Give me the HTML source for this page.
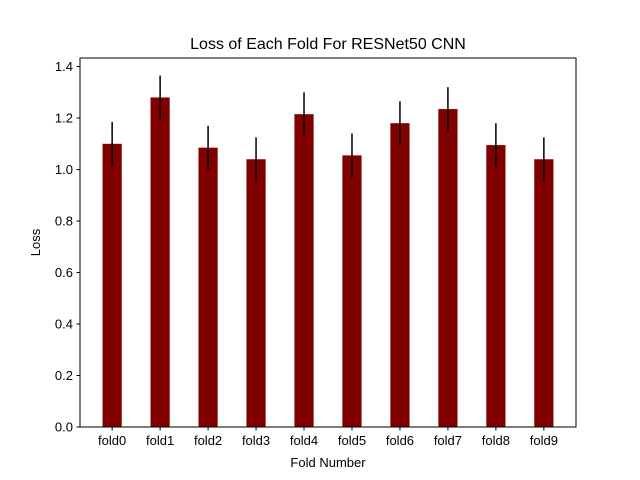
<!DOCTYPE html>
<html><head><meta charset="utf-8"><style>
body{margin:0;background:#fff;}
svg{display:block;font-family:"Liberation Sans","DejaVu Sans",sans-serif;}
</style></head><body>
<svg id="chart" width="640" height="480">
<text x="328" y="49" text-anchor="middle" font-size="16">Loss of Each Fold For RESNet50 CNN</text>
<text x="328" y="467" text-anchor="middle" font-size="13">Fold Number</text>
<text transform="translate(40,242.5) rotate(-90)" text-anchor="middle" font-size="13">Loss</text>
<g id="bars"></g><g id="ticks"></g>
<rect x="80" y="58" width="496" height="369" fill="none" stroke="#000" stroke-width="1"/>
</svg>
<script>
const categories=["fold0","fold1","fold2","fold3","fold4","fold5","fold6","fold7","fold8","fold9"];
const lossValues=[1.10,1.28,1.085,1.04,1.215,1.055,1.18,1.235,1.095,1.04];
const errValues=[0.085,0.085,0.085,0.085,0.085,0.085,0.085,0.085,0.085,0.085];
const yTicks=[0.0,0.2,0.4,0.6,0.8,1.0,1.2,1.4];
const L=80,R=576,T=58,B=427;
const xmin=-0.67,xmax=categories.length-1+0.67;
const ymax=Math.max(...lossValues.map((v,i)=>v+errValues[i]))*1.05;
const xs=v=>L+(v-xmin)/(xmax-xmin)*(R-L);
const ys=v=>B-v/ymax*(B-T);
const NS="http://www.w3.org/2000/svg";
const bars=document.getElementById('bars'),ticks=document.getElementById('ticks');
function mk(tag,attrs,parent){const e=document.createElementNS(NS,tag);for(const k in attrs)e.setAttribute(k,attrs[k]);parent.appendChild(e);return e;}
categories.forEach((c,i)=>{
 const x0=xs(i-0.2),x1=xs(i+0.2);
 const r=mk('rect',{x:x0,y:ys(lossValues[i]),width:x1-x0,height:B-ys(lossValues[i]),fill:'#800000'},bars);
 
 
 const e=mk('line',{x1:xs(i),x2:xs(i),y1:ys(lossValues[i]+errValues[i]),y2:ys(lossValues[i]-errValues[i]),stroke:'#000','stroke-width':1.5},bars);
 
 
 mk('line',{x1:xs(i),x2:xs(i),y1:B,y2:B+3.5,stroke:'#000'},ticks);
 const t=mk('text',{x:xs(i),y:B+18,'text-anchor':'middle','font-size':13},ticks);
 t.textContent=c;
 
 
});
yTicks.forEach(v=>{
 mk('line',{x1:L-3.5,x2:L,y1:ys(v),y2:ys(v),stroke:'#000'},ticks);
 const t=mk('text',{x:L-7,y:ys(v)+4.5,'text-anchor':'end','font-size':13},ticks);
 t.textContent=v.toFixed(1);
 
 
});
</script>
</body></html>
